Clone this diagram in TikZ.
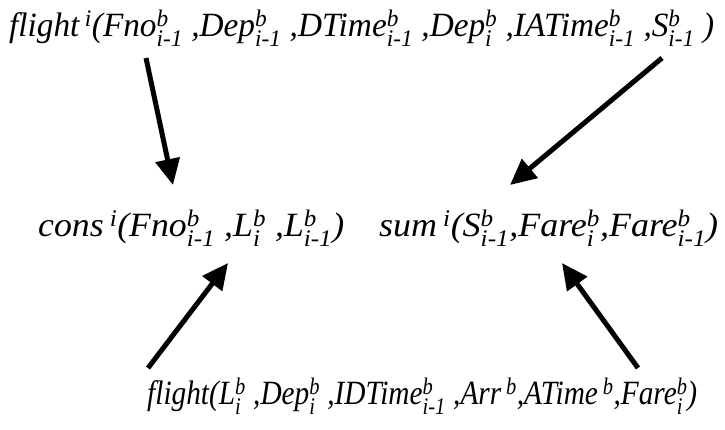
\documentclass[tikz,border=0pt]{standalone}
\usepackage{amsmath}
\usepackage{graphicx}
\usepackage{fontspec}
\setmainfont{Liberation Serif}
\usetikzlibrary{arrows.meta}

% stacked indices: superscript over subscript
\newcommand{\ix}[2]{\ensuremath{^{\text{#1}}_{\text{#2}}}}
% squeeze a term to a given width
\newcommand{\fitw}[2]{\resizebox{#1}{\height}{#2}}

\begin{document}
\begin{tikzpicture}[x=1pt, y=-1pt, font=\fontsize{34}{40}\selectfont\itshape]
  \tikzset{
    term/.style={anchor=base west, inner sep=0pt},
    link/.style={-{Triangle[length=26pt,width=24pt]}, line width=5pt}
  }
  \useasboundingbox (0,0) rectangle (725,429);
  % predicates
  \node[term] (top) at (9,36) {\fitw{705pt}{flight\,\textsuperscript{i}(Fno\ix{b}{i-1} ,Dep\ix{b}{i-1} ,DTime\ix{b}{i-1} ,Dep\ix{b}{i} ,IATime\ix{b}{i-1} ,S\ix{b}{i-1} )}};
  \node[term] (cons) at (38,236) {\fitw{306pt}{cons\,\textsuperscript{i}(Fno\ix{b}{i-1} ,L\ix{b}{i} ,L\ix{b}{i-1})}};
  \node[term] (sum) at (379,236) {\fitw{339pt}{sum\,\textsuperscript{i}(S\ix{b}{i-1},Fare\ix{b}{i},Fare\ix{b}{i-1})}};
  \node[term] (bot) at (147,404) {\fitw{550pt}{flight(L\ix{b}{i} ,Dep\ix{b}{i} ,IDTime\ix{b}{i-1} ,Arr\,\textsuperscript{b},ATime\,\textsuperscript{b},Fare\ix{b}{i})}};
  % arrow ends
  \coordinate (t1) at (146,58);
  \coordinate (h1) at (173,185);
  \coordinate (t2) at (662,58);
  \coordinate (h2) at (510,185);
  \coordinate (t3) at (148,368);
  \coordinate (h3) at (228,263);
  \coordinate (t4) at (638,368);
  \coordinate (h4) at (562,263);
  % arrows
  \draw[link] (t1) -- (h1);
  \draw[link] (t2) -- (h2);
  \draw[link] (t3) -- (h3);
  \draw[link] (t4) -- (h4);
\end{tikzpicture}
\end{document}
